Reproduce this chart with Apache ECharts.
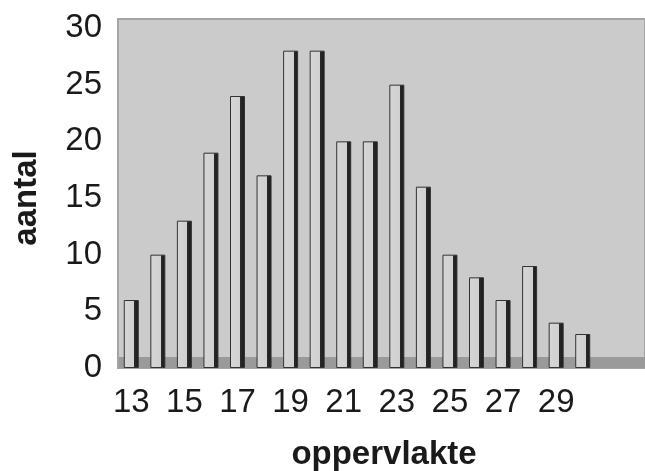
<!DOCTYPE html>
<html><head><meta charset="utf-8">
<script src="https://cdn.jsdelivr.net/npm/echarts@6/dist/echarts.min.js"></script>
<style>html,body{margin:0;padding:0;background:#fff}#c{width:645px;height:471px}</style>
</head><body><div id="c"></div>
<script>
const categories = ['13','14','15','16','17','18','19','20','21','22','23','24','25','26','27','28','29','30'];
const counts = [6,10,13,19,24,17,28,28,20,20,25,16,10,8,6,9,4,3];
const yTicks = [0,5,10,15,20,25,30];
const xAxisTitle = 'oppervlakte';
const yAxisTitle = 'aantal';

const chart = echarts.init(document.getElementById('c'));
chart.setOption({
  animation: false,
  backgroundColor: '#ffffff',
  graphic: [
    {type:'rect', z:-10, shape:{x:118, y:19, width:527, height:349}, style:{fill:'#cbcbcb', stroke:'#a4a4a4', lineWidth:2}},
    {type:'rect', z:-9, shape:{x:119, y:357, width:526, height:11}, style:{fill:'#9a9a9a'}}
  ],
  grid: {left:118, right:49, top:28, bottom:103, containLabel:false, outerBoundsMode:'none'},
  xAxis: {
    type:'category', data: categories,
    name: xAxisTitle, nameLocation:'middle', nameGap:70,
    nameTextStyle:{fontFamily:'Liberation Sans', fontWeight:'bold', fontSize:33, color:'#1a1a1a', padding:[0,0,0,54]},
    axisLine:{show:false}, axisTick:{show:false},
    axisLabel:{interval:1, fontFamily:'Liberation Sans', fontSize:33, color:'#1a1a1a', margin:18}
  },
  yAxis: {
    type:'value', min:0, max:30, interval:5,
    name: yAxisTitle, nameLocation:'middle', nameGap:75,
    nameTextStyle:{fontFamily:'Liberation Sans', fontWeight:'bold', fontSize:33, color:'#1a1a1a'},
    axisLine:{show:false}, axisTick:{show:false}, splitLine:{show:false},
    axisLabel:{fontFamily:'Liberation Sans', fontSize:33, color:'#1a1a1a', margin:16,
      formatter: v => yTicks.includes(v) ? String(v) : ''}
  },
  series: [{
    type:'bar', data: counts, barWidth:15,
    itemStyle:{
      color:{type:'linear', x:0, y:0, x2:1, y2:0, colorStops:[
        {offset:0, color:'#d6d6d6'},{offset:0.7, color:'#d0d0d0'},
        {offset:0.7, color:'#2a2a2a'},{offset:1, color:'#1a1a1a'}]},
      borderColor:'#333', borderWidth:1
    }
  }]
});
</script></body></html>
